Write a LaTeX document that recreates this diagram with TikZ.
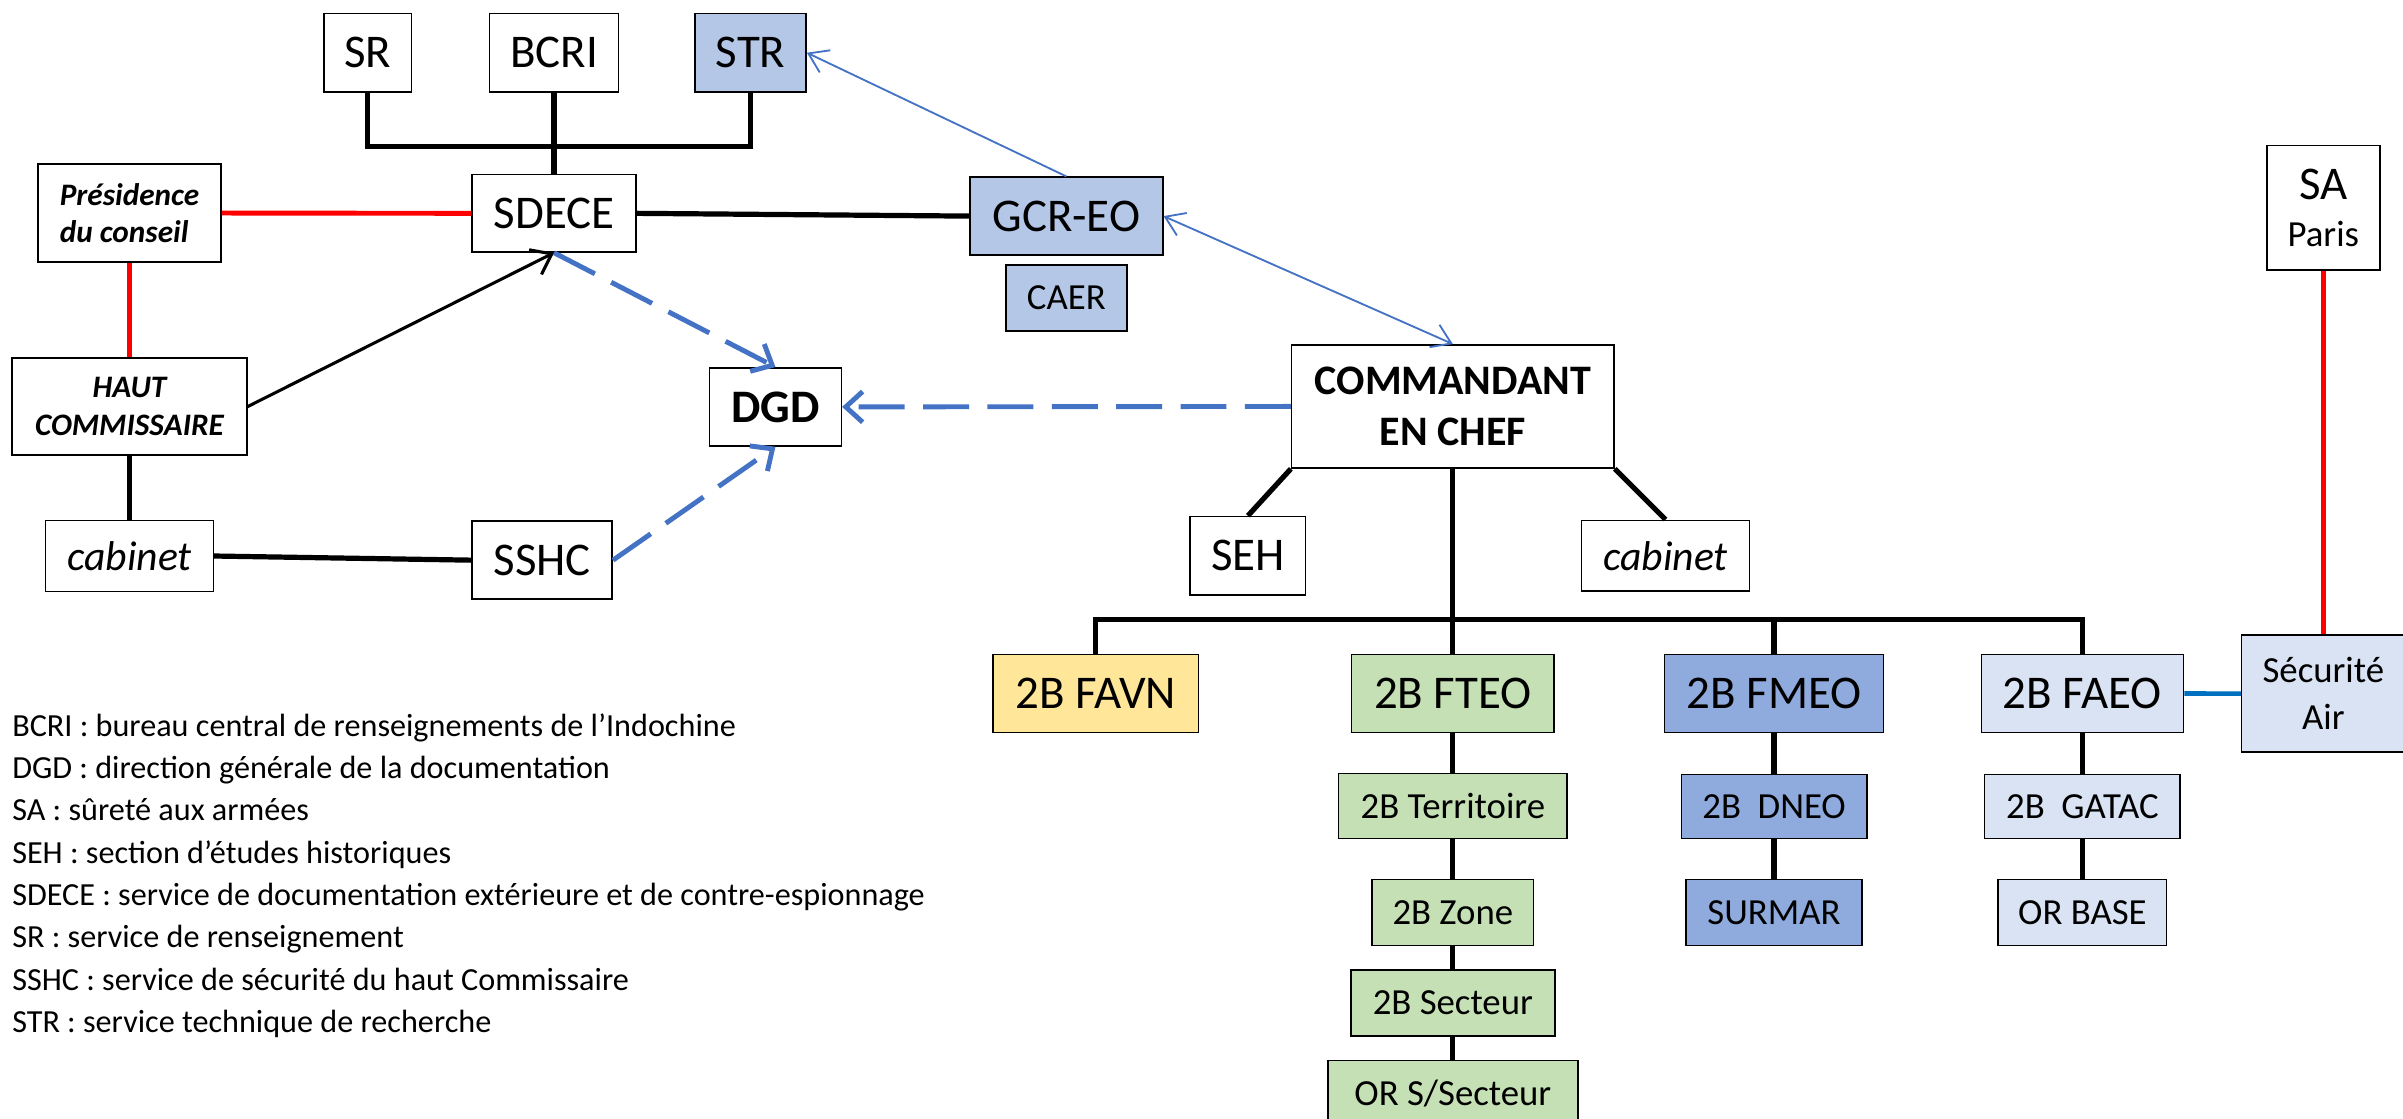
\documentclass[tikz,border=0pt]{standalone}
\usepackage{fontspec}
\setmainfont{Carlito}
\usetikzlibrary{positioning,arrows.meta,calc}

\definecolor{strblue}{HTML}{B4C7E7}
\definecolor{favnyellow}{HTML}{FFE699}
\definecolor{fteogreen}{HTML}{C5E0B4}
\definecolor{fmeoblue}{HTML}{8FAADC}
\definecolor{faeoblue}{HTML}{DAE3F3}
\definecolor{dashblue}{HTML}{4472C4}
\definecolor{linkblue}{HTML}{0070C0}

\tikzset{
  orgbox/.style={draw, line width=0.5pt, inner sep=0pt, align=center},
  bigtext/.style={font=\fontsize{15.3}{18}\selectfont},
  smalltext/.style={font=\fontsize{12}{15.3}\selectfont},
  tieline/.style={line width=1.7pt},
  redtie/.style={line width=1.6pt, red},
  dashtie/.style={line width=1.6pt, dashblue, dash pattern=on 15pt off 6pt,
    -{Straight Barb[length=5.5pt,width=10pt]}},
  thintie/.style={line width=0.6pt, dashblue},
}

\begin{document}
\begin{tikzpicture}[x=0.5pt,y=-0.5pt]
    \useasboundingbox (0,0) rectangle (1568,730);

    % upper left part
    \node[orgbox,bigtext,minimum width=28.5pt,minimum height=25.6pt] (sr) at (240,34.4) {SR};
    \node[orgbox,bigtext,minimum width=42pt,minimum height=25.6pt] (bcri) at (361.5,34.4) {BCRI};
    \node[orgbox,bigtext,fill=strblue,minimum width=36.2pt,minimum height=25.6pt] (str) at (489.8,34.4) {STR};
    \node[orgbox,bigtext,minimum width=53.5pt,minimum height=25.2pt] (sdece) at (361.5,139.2) {SDECE};
    \node[orgbox,align=left,font=\fontsize{10.2}{12.3}\selectfont\bfseries\itshape,
          minimum width=59.8pt,minimum height=32pt] (pres) at (84.5,139) {Présidence\\du conseil};
    \node[orgbox,font=\fontsize{10.2}{12.3}\selectfont\bfseries\itshape,
          minimum width=76.6pt,minimum height=31.7pt] (hc) at (84.5,265.3) {HAUT\\COMMISSAIRE};
    \node[orgbox,font=\fontsize{13.6}{16}\selectfont\itshape,minimum width=54.7pt,minimum height=23.2pt] (cab1) at (84.5,362.8) {cabinet};
    \node[orgbox,bigtext,minimum width=45.7pt,minimum height=25.5pt] (sshc) at (353.8,365.5) {SSHC};
    \node[orgbox,font=\fontsize{15.2}{18}\selectfont\bfseries,minimum width=43pt,minimum height=25.5pt] (dgd) at (506,265.5) {DGD};
    \node[orgbox,bigtext,fill=strblue,minimum width=62.9pt,minimum height=25.4pt] (gcr) at (695.8,141) {GCR-EO};
    \node[orgbox,smalltext,fill=strblue,minimum width=39.5pt,minimum height=21.5pt,below=2.7pt of gcr] (caer) {CAER};

    % commandement
    \node[orgbox,font=\fontsize{13.7}{16.9}\selectfont\bfseries,minimum width=105.2pt,minimum height=40.2pt] (cmd) at (948,265.2) {COMMANDANT\\EN CHEF};
    \node[orgbox,bigtext,minimum width=37.7pt,minimum height=25.6pt] (seh) at (814.3,362.6) {SEH};
    \node[orgbox,font=\fontsize{13.6}{16}\selectfont\itshape,minimum width=54.8pt,minimum height=23.1pt] (cab2) at (1086.8,362.6) {cabinet};
    \node[orgbox,smalltext,minimum width=36.8pt,minimum height=40.5pt] (sa) at (1516,135.5) {{\fontsize{15.3}{15.3}\selectfont SA}\\Paris};
    \node[orgbox,smalltext,fill=faeoblue,minimum width=53.3pt,minimum height=38.1pt] (secu) at (1516,452.6) {Sécurité\\Air};

    \node[orgbox,bigtext,fill=favnyellow,minimum width=67pt,minimum height=25.5pt] (favn) at (715,452.5) {2B FAVN};
    \node[orgbox,bigtext,fill=fteogreen,minimum width=66pt,minimum height=25.5pt] (fteo) at (948,452.5) {2B FTEO};
    \node[orgbox,bigtext,fill=fmeoblue,minimum width=71.5pt,minimum height=25.5pt] (fmeo) at (1157.6,452.5) {2B FMEO};
    \node[orgbox,bigtext,fill=faeoblue,minimum width=66pt,minimum height=25.5pt] (faeo) at (1358.8,452.5) {2B FAEO};

    \node[orgbox,smalltext,fill=fteogreen,minimum width=74.5pt,minimum height=21.2pt,below=12.8pt of fteo] (terr) {2B Territoire};
    \node[orgbox,smalltext,fill=fteogreen,minimum width=52.7pt,minimum height=21.5pt,below=13pt of terr] (zone) {2B Zone};
    \node[orgbox,smalltext,fill=fteogreen,minimum width=66.5pt,minimum height=21.5pt,below=7.5pt of zone] (sect) {2B Secteur};
    \node[orgbox,smalltext,fill=fteogreen,minimum width=81.5pt,minimum height=21.5pt,below=7.5pt of sect] (orss) {OR S/Secteur};

    \node[orgbox,smalltext,fill=fmeoblue,minimum width=60.5pt,minimum height=20.8pt,below=13.2pt of fmeo] (dneo) {2B\ \ DNEO};
    \node[orgbox,smalltext,fill=fmeoblue,minimum width=57.5pt,minimum height=21.5pt,below=13pt of dneo] (surmar) {SURMAR};
    \node[orgbox,smalltext,fill=faeoblue,minimum width=63.8pt,minimum height=20.8pt,below=13.2pt of faeo] (gatac) {2B\ \ GATAC};
    \node[orgbox,smalltext,fill=faeoblue,minimum width=55pt,minimum height=21.5pt,below=13pt of gatac] (orbase) {OR BASE};

    % legende
    \foreach \txt [count=\i from 0] in {BCRI : bureau central de renseignements de l’Indochine,
        DGD : direction générale de la documentation,
        SA : sûreté aux armées,
        SEH : section d’études historiques,
        SDECE : service de documentation extérieure et de contre-espionnage,
        SR : service de renseignement,
        SSHC : service de sécurité du haut Commissaire,
        STR : service technique de recherche}
      \node[anchor=base west,inner sep=0pt,font=\fontsize{10.5}{12}\selectfont] (leg\i) at (7.6,480.3+27.65*\i) {\txt};

    % liaisons
    \coordinate (topmark) at (361.5,95.4);
    \draw[tieline] (sr.south) |- (topmark);
    \draw[tieline] (str.south) |- (topmark);
    \draw[tieline] (bcri.south) -- (sdece.north);

    \draw[redtie] (pres.east) -- (sdece.west);
    \draw[redtie] (pres.south) -- (hc.north);
    \draw[line width=1pt,-{Straight Barb[length=6pt,width=9pt]}] (hc.east) -- (sdece.south);
    \draw[tieline] (hc.south) -- (cab1.north);
    \draw[tieline] (cab1.east) -- (sshc.west);
    \draw[tieline] (sdece.east) -- (gcr.west);

    \draw[dashtie] (sdece.south) -- (dgd.north);
    \draw[dashtie] (sshc.east) -- (dgd.south);
    \draw[dashtie] (cmd.west) -- (dgd.east);

    \draw[thintie,-{Straight Barb[length=6pt,width=8pt]}] (gcr.north) -- (str.east);
    \draw[thintie,{Straight Barb[length=6pt,width=8pt]}-{Straight Barb[length=6pt,width=8pt]}] (gcr.east) -- (cmd.north);

    \draw[tieline] (cmd.south west) -- (seh.north);
    \draw[tieline] (cmd.south east) -- (cab2.north);

    \coordinate (lowmark) at (948,404);
    \draw[tieline] (cmd.south) -- (fteo.north);
    \draw[tieline] (favn.north) |- (lowmark);
    \draw[tieline] (faeo.north) |- (lowmark);
    \draw[tieline] (fmeo.north) -- (fmeo.north |- lowmark);

    \draw[tieline] (fteo) -- (terr) -- (zone) -- (sect) -- (orss);
    \draw[tieline] (fmeo) -- (dneo) -- (surmar);
    \draw[tieline] (faeo) -- (gatac) -- (orbase);

    \draw[redtie] (sa.south) -- (secu.north);
    \draw[line width=1.5pt,linkblue] (faeo.east) -- (secu.west);
\end{tikzpicture}
\end{document}
